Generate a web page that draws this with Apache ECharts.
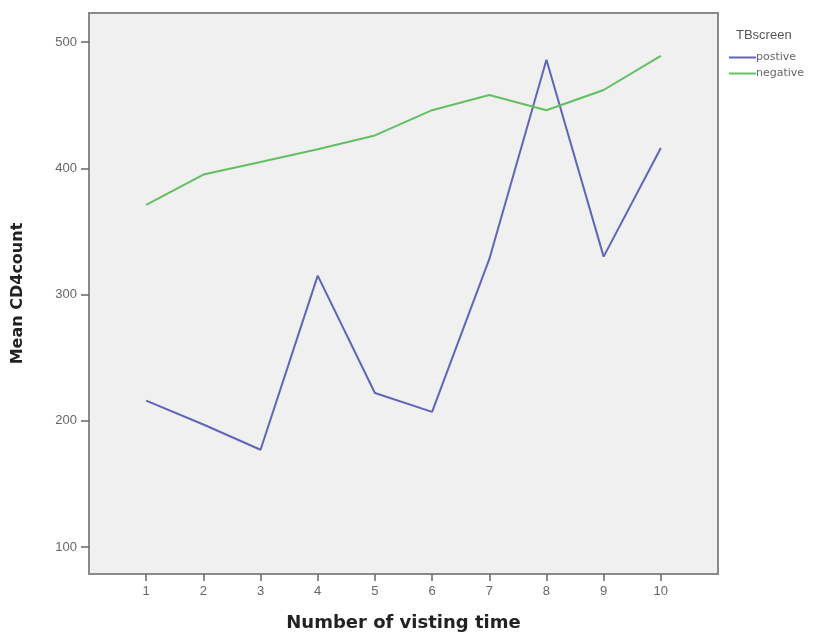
<!DOCTYPE html>
<html>
<head>
<meta charset="utf-8">
<script src="https://cdn.jsdelivr.net/npm/echarts@6/dist/echarts.min.js"></script>
<style>
html,body{margin:0;padding:0;background:#fff;}
#chart{width:822px;height:635px;}
</style>
</head>
<body>
<div id="chart"></div>
<script>
var visits = [1, 2, 3, 4, 5, 6, 7, 8, 9, 10];
var positive = [216, 197, 177, 315, 222, 207, 328, 486, 330, 416];
var negative = [371, 395, 405, 415, 426, 446, 458, 446, 462, 489];
var yTicks = [100, 200, 300, 400, 500];

var chart = echarts.init(document.getElementById('chart'));
var font = 'Liberation Sans, Arial, sans-serif';
var wide = 'DejaVu Sans, Verdana, sans-serif';
chart.setOption({
  animation: false,
  backgroundColor: '#ffffff',
  title: {
    text: 'TBscreen',
    left: 731, top: 24,
    textStyle: { fontFamily: font, fontSize: 13, fontWeight: 'normal', color: '#555' }
  },
  legend: {
    orient: 'vertical',
    left: 724, top: 47,
    itemWidth: 27, itemHeight: 2, itemGap: 5,
    icon: 'rect',
    textStyle: { fontFamily: wide, fontSize: 11, color: '#666', padding: [0, 0, 0, -5] },
    data: ['postive', 'negative']
  },
  grid: {
    left: 89, top: 13, right: 104, bottom: 61,
    outerBoundsMode: 'none', containLabel: false,
    show: true, backgroundColor: '#f0f0f0', borderColor: '#8a8a8a', borderWidth: 2
  },
  xAxis: {
    type: 'value', min: 0, max: 11,
    name: 'Number of visting time', nameLocation: 'middle', nameGap: 40,
    nameTextStyle: { fontFamily: wide, fontSize: 18, fontWeight: 'bold', color: '#222' },
    axisLine: { show: true, lineStyle: { color: '#8a8a8a', width: 2 } },
    axisTick: { show: true, customValues: visits, length: 7, lineStyle: { color: '#666', width: 1.5 } },
    axisLabel: { customValues: visits, fontFamily: font, fontSize: 13, color: '#666', margin: 11 },
    splitLine: { show: false }
  },
  yAxis: {
    type: 'value', min: 78.6, max: 523,
    name: 'Mean CD4count', nameLocation: 'middle', nameGap: 63,
    nameTextStyle: { fontFamily: wide, fontSize: 16, fontWeight: 'bold', color: '#222' },
    axisLine: { show: true, lineStyle: { color: '#8a8a8a', width: 2 } },
    axisTick: { show: true, customValues: yTicks, length: 8, lineStyle: { color: '#666', width: 1.5 } },
    axisLabel: { customValues: yTicks, fontFamily: font, fontSize: 13, color: '#666', margin: 12 },
    splitLine: { show: false }
  },
  series: [
    {
      name: 'postive', type: 'line', symbol: 'none',
      data: visits.map(function (v, i) { return [v, positive[i]]; }),
      lineStyle: { color: '#6165b8', width: 2 },
      itemStyle: { color: '#6165b8' }
    },
    {
      name: 'negative', type: 'line', symbol: 'none',
      data: visits.map(function (v, i) { return [v, negative[i]]; }),
      lineStyle: { color: '#62c062', width: 2 },
      itemStyle: { color: '#62c062' }
    }
  ]
});
</script>
</body>
</html>
